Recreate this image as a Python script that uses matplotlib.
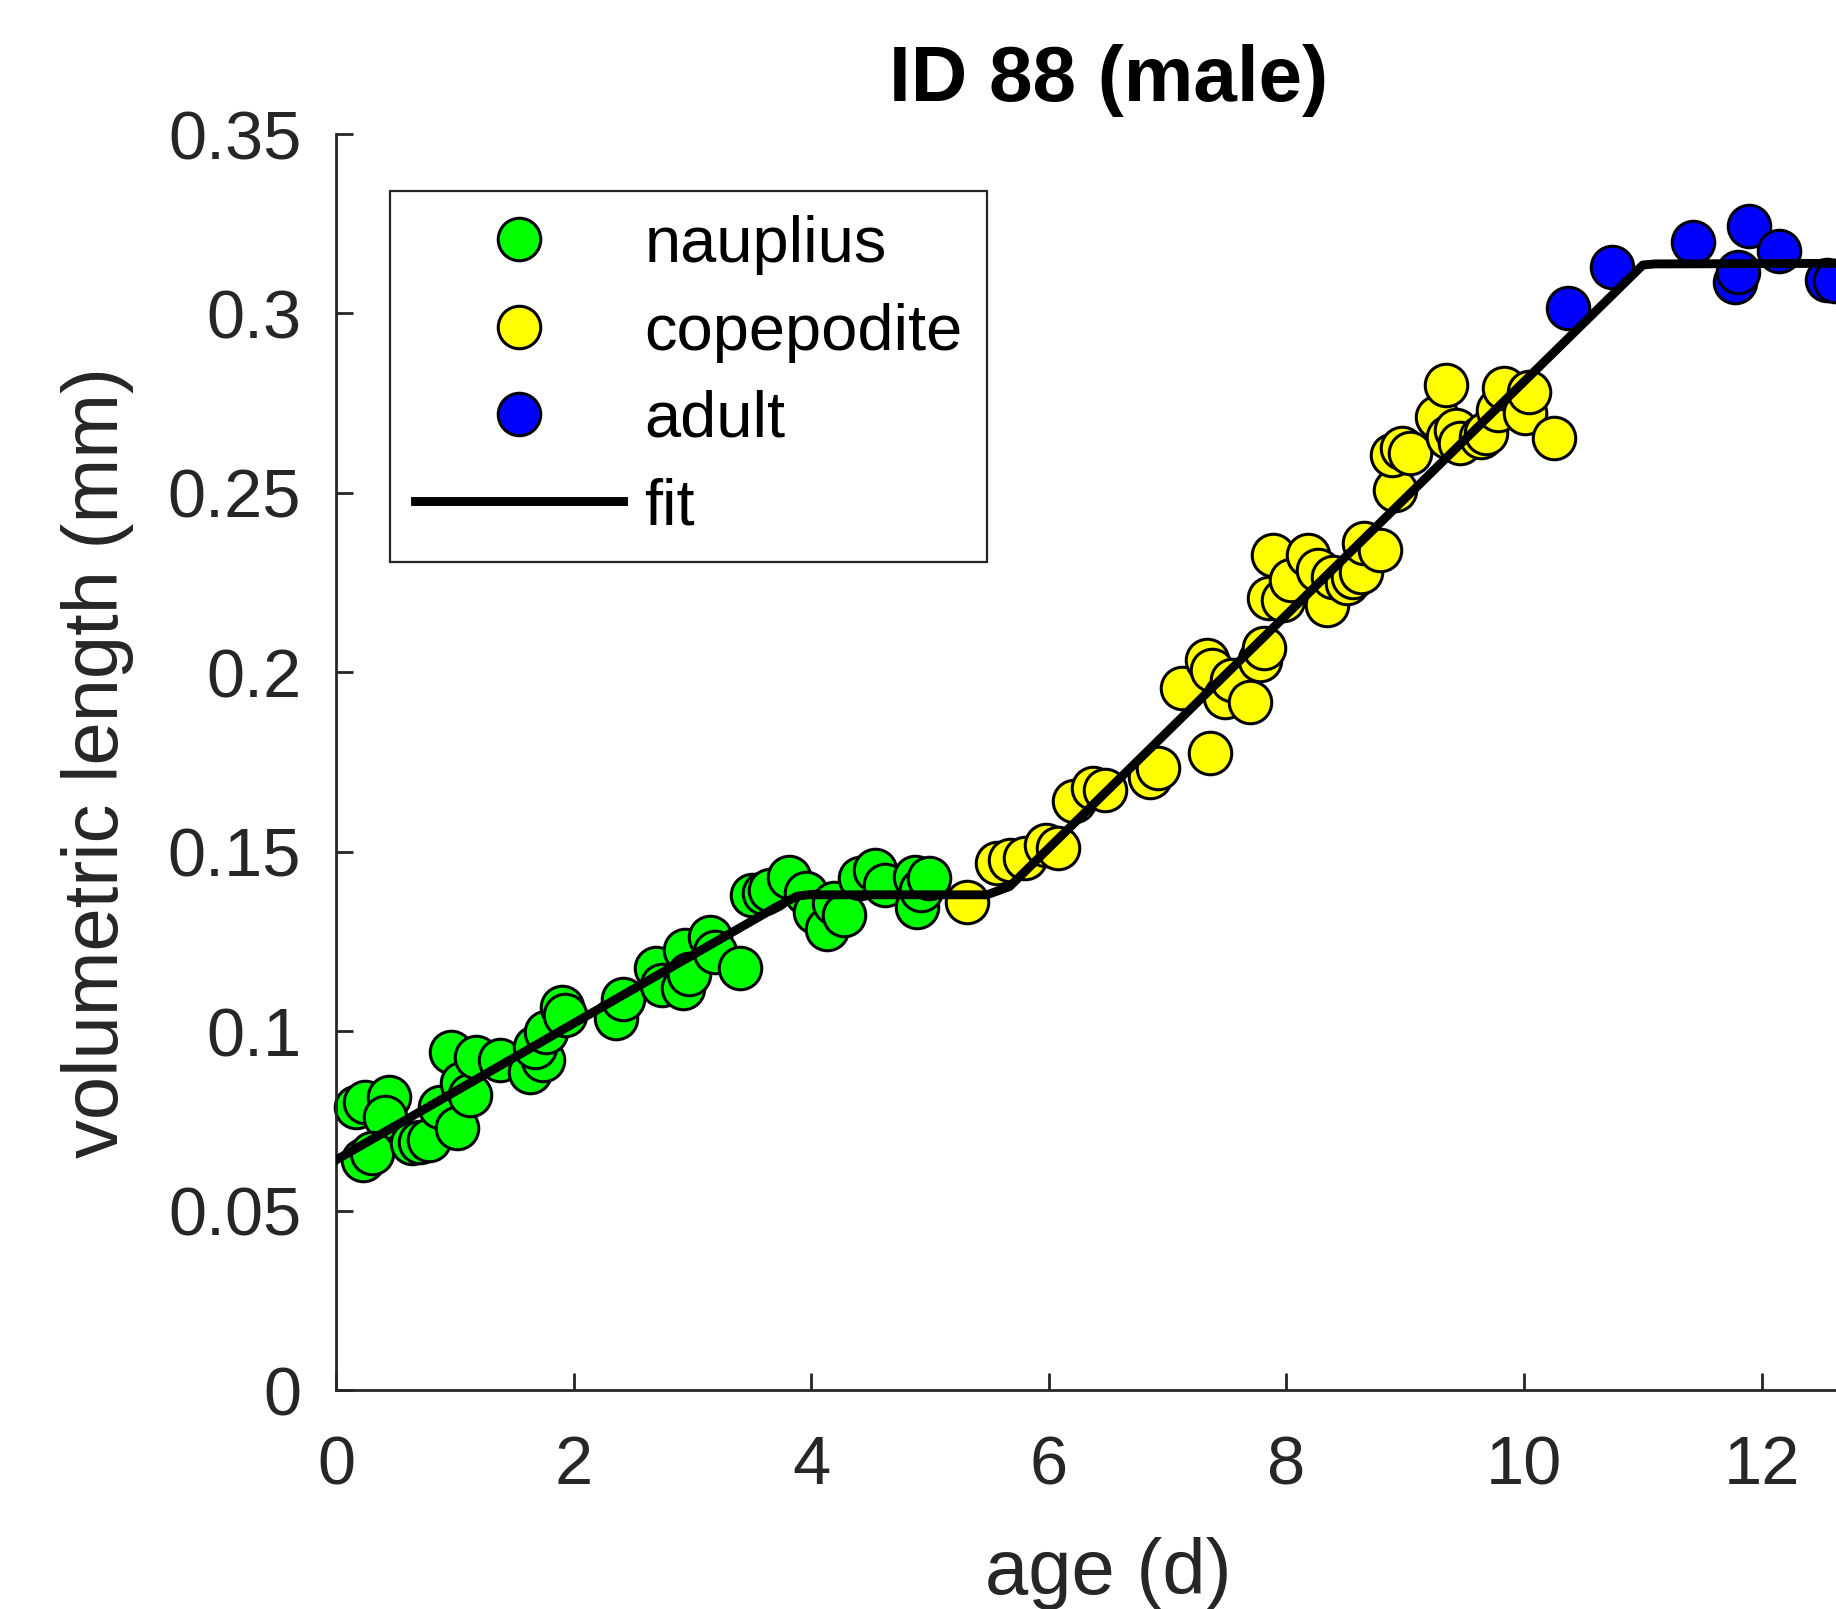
import matplotlib
matplotlib.use('Agg')
import matplotlib.pyplot as plt
from matplotlib.ticker import FuncFormatter

plt.rcParams['font.family'] = ['Liberation Sans', 'DejaVu Sans']

# nauplius stage (green)
naup_age = [0.17, 0.24, 0.45, 0.41, 0.23, 0.30, 0.64, 0.71, 0.78, 0.875, 1.02, 0.97, 1.06, 1.13,
            1.18, 1.38, 1.63, 1.745, 1.675, 1.77, 1.90, 1.93, 2.36, 2.42, 2.69, 2.74, 2.92, 2.94,
            2.97, 3.15, 3.19, 3.40, 3.50, 3.60, 3.65, 3.81, 3.96, 4.03, 4.13, 4.19, 4.28, 4.41,
            4.54, 4.62, 4.87, 4.89, 4.92, 4.99]
naup_len = [0.0789, 0.0803, 0.0817, 0.0762, 0.0641, 0.0660, 0.0687, 0.0692, 0.0697, 0.0789, 0.0729,
            0.0943, 0.0855, 0.0822, 0.0929, 0.0920, 0.0887, 0.0920, 0.0957, 0.0998, 0.1068, 0.1045,
            0.1036, 0.1091, 0.1175, 0.1129, 0.1120, 0.1226, 0.1160, 0.1263, 0.1221, 0.1175, 0.1380,
            0.1384, 0.1393, 0.1430, 0.1384, 0.1333, 0.1286, 0.1356, 0.1324, 0.1426, 0.1449, 0.1407,
            0.1430, 0.1347, 0.1393, 0.1426]

# copepodite stage (yellow)
cope_age = [5.31, 5.56, 5.67, 5.80, 5.98, 6.08, 6.21, 6.37, 6.47, 6.85, 6.92, 7.36, 7.12, 7.33,
            7.37, 7.48, 7.54, 7.69, 7.78, 7.81, 7.85, 7.89, 7.97, 8.04, 8.18, 8.27, 8.34, 8.39,
            8.51, 8.56, 8.63, 8.65, 8.79, 8.91, 8.89, 8.97, 9.04, 9.27, 9.34, 9.36, 9.43, 9.46,
            9.64, 9.68, 9.78, 9.83, 10.01, 10.04, 10.25]
cope_len = [0.1361, 0.1468, 0.1477, 0.1482, 0.1519, 0.1510, 0.1640, 0.1677, 0.1672, 0.1709, 0.1733,
            0.1774, 0.1955, 0.2034, 0.2006, 0.1932, 0.1979, 0.1918, 0.2034, 0.2067, 0.2206, 0.2327,
            0.2201, 0.2257, 0.2327, 0.2285, 0.2187, 0.2266, 0.2248, 0.2266, 0.2280, 0.2359, 0.2341,
            0.2508, 0.2605, 0.2624, 0.2610, 0.2712, 0.2801, 0.2656, 0.2675, 0.2638, 0.2656, 0.2666,
            0.2731, 0.2791, 0.2722, 0.2782, 0.2652]

# adult stage (blue)
adult_age = [10.37, 10.74, 11.42, 11.89, 12.15, 11.78, 11.80, 12.55, 12.62]
adult_len = [0.3014, 0.3130, 0.3200, 0.3244, 0.3175, 0.3088, 0.3116, 0.3093, 0.3090]

# fitted growth curve
fit_age = [0.0, 3.70, 3.88, 3.97, 5.48, 5.67, 11.0, 11.1, 13.0]
fit_len = [0.0641, 0.1345, 0.1376, 0.1380, 0.1380, 0.1403, 0.3135, 0.3138, 0.3140]

fig = plt.figure(figsize=(9.18, 8.045), dpi=200)
ax = fig.add_axes([0.1830, 0.1361, 0.8412, 0.7806])

ms = 15.3
ew = 1.1
ax.plot(naup_age, naup_len, 'o', ms=ms, mfc=(0, 1, 0), mec='k', mew=ew, label='nauplius', clip_on=False)
ax.plot(cope_age, cope_len, 'o', ms=ms, mfc=(1, 1, 0), mec='k', mew=ew, label='copepodite', clip_on=False)
ax.plot(adult_age, adult_len, 'o', ms=ms, mfc=(0, 0, 1), mec='k', mew=ew, label='adult', clip_on=False)
ax.plot(fit_age, fit_len, '-', color='k', lw=3.2, label='fit', solid_joinstyle='round', zorder=5)

ax.set_xlim(0, 13)
ax.set_ylim(0, 0.35)
ax.set_xticks([0, 2, 4, 6, 8, 10, 12])
ax.set_yticks([0, 0.05, 0.1, 0.15, 0.2, 0.25, 0.3, 0.35])
ax.yaxis.set_major_formatter(FuncFormatter(lambda v, p: '%g' % round(v, 2)))

axcol = (0.15, 0.15, 0.15)
for s in ['top', 'right']:
    ax.spines[s].set_visible(False)
for s in ['left', 'bottom']:
    ax.spines[s].set_color(axcol)
    ax.spines[s].set_linewidth(1.0)
ax.tick_params(axis='both', direction='in', length=6.2, width=1.0, color=axcol,
               labelcolor=axcol, labelsize=24.7)
ax.tick_params(axis='x', pad=16)
ax.tick_params(axis='y', pad=12.5)

ax.set_xlabel('age (d)', fontsize=28, color=axcol, labelpad=14)
ax.set_ylabel('volumetric length (mm)', fontsize=28, color=axcol, labelpad=12)
ax.set_title('ID 88 (male)', fontsize=28.2, fontweight='bold', pad=12)

leg = ax.legend(loc='upper left', bbox_to_anchor=(0.035, 0.955), borderaxespad=0,
                fontsize=23.4, handlelength=3.2, handletextpad=0.33, borderpad=0.38,
                labelspacing=0.42, fancybox=False, framealpha=1)
leg.get_frame().set_edgecolor(axcol)
leg.get_frame().set_linewidth(0.8)

fig.savefig('out.png', dpi=200)
